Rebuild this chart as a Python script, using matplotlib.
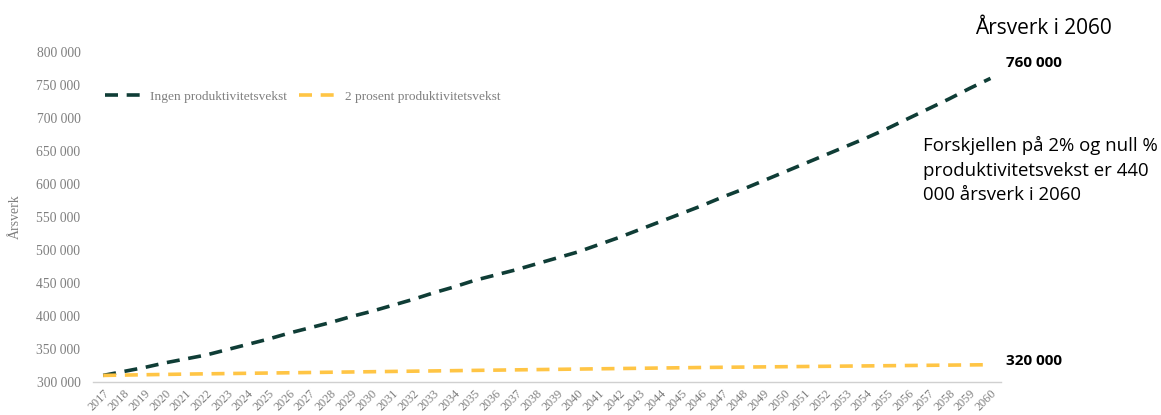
import matplotlib
matplotlib.use("Agg")
import matplotlib.pyplot as plt
from matplotlib.ticker import FuncFormatter

years = list(range(2017, 2061))
ingen = [310, 316, 322, 329, 335, 341, 349, 357, 365, 374,
         382, 390, 399, 407, 416, 425, 435, 444, 454, 462,
         470, 479, 488, 497, 508, 519, 531, 543, 555, 567,
         580, 592, 605, 618, 631, 644, 657, 670, 684, 699,
         714, 729, 745, 760]
ingen = [v * 1000 for v in ingen]
to_prosent = [310.0, 310.5, 311.0, 311.5, 312.0, 312.4, 312.8, 313.2, 313.6, 314.0,
              314.4, 314.8, 315.2, 315.6, 316.0, 316.4, 316.8, 317.2, 317.6, 318.0,
              318.4, 318.8, 319.2, 319.6, 320.0, 320.4, 320.8, 321.2, 321.6, 322.0,
              322.3, 322.6, 322.9, 323.2, 323.5, 323.8, 324.1, 324.4, 324.7, 325.0,
              325.3, 325.6, 325.9, 326.2]
to_prosent = [v * 1000 for v in to_prosent]

series_names = ["Ingen produktivitetsvekst", "2 prosent produktivitetsvekst"]
yticks = list(range(300000, 800001, 50000))

grey = "#7f7f7f"
dark = "#0f3d36"
yellow = "#ffc545"

fig = plt.figure(figsize=(11.61, 4.15), dpi=100)
ax = fig.add_axes([0.080, 0.0795, 0.782, 0.7952])

x = list(range(len(years)))
ax.plot(x, ingen, color=dark, lw=2.6, dashes=(3.6, 2.4), label=series_names[0])
ax.plot(x, to_prosent, color=yellow, lw=2.6, dashes=(3.6, 2.4), label=series_names[1])

ax.set_xlim(-0.5, len(years) - 0.5)
ax.set_ylim(300000, 800000)
ax.set_yticks(yticks)
ax.yaxis.set_major_formatter(FuncFormatter(lambda v, p: f"{int(v):,}".replace(",", " ")))
ax.set_xticks(x)
ax.set_xticklabels([str(y) for y in years], rotation=45, ha="right",
                   rotation_mode="anchor", fontsize=8.8, color=grey,
                   family="Liberation Serif")
for lab in ax.get_yticklabels():
    lab.set_family("Liberation Serif")
    lab.set_fontsize(9.8)
    lab.set_color(grey)

ax.tick_params(axis="both", length=0)
ax.tick_params(axis="y", pad=9)
ax.tick_params(axis="x", pad=4)
for s in ["top", "right", "left"]:
    ax.spines[s].set_visible(False)
ax.spines["bottom"].set_color("#d0d0d0")
ax.spines["bottom"].set_linewidth(1)

ax.set_ylabel("Årsverk", family="Liberation Serif", fontsize=10, color=grey, labelpad=10)

leg = ax.legend(loc="upper left", bbox_to_anchor=(0.0, 0.92), ncol=2, frameon=False,
                prop={"family": "Liberation Serif", "size": 9.6}, handlelength=3.0,
                columnspacing=0.9, handletextpad=0.4)
for t in leg.get_texts():
    t.set_color(grey)

fig.text(975 / 1161, 1 - 28 / 415, "Årsverk i 2060", fontsize=15, family="Open Sans",
         va="center", ha="left", color="black")
ax.annotate(f"{ingen[-1]:,}".replace(",", " "), xy=(x[-1], ingen[-1]),
            xytext=(11, 11), textcoords="offset points", fontsize=11,
            fontweight="bold", family="Open Sans", va="center", ha="left")
ax.annotate("320 000", xy=(x[-1], to_prosent[-1]),
            xytext=(11, 3), textcoords="offset points", fontsize=11,
            fontweight="bold", family="Open Sans", va="center", ha="left")
fig.text(923 / 1161, 1 - 170 / 415,
         "Forskjellen på 2% og null %\nproduktivitetsvekst er 440\n000 årsverk i 2060",
         fontsize=13.4, family="Open Sans", va="center", ha="left",
         linespacing=1.45, color="black")

fig.savefig("out.png", dpi=100)
